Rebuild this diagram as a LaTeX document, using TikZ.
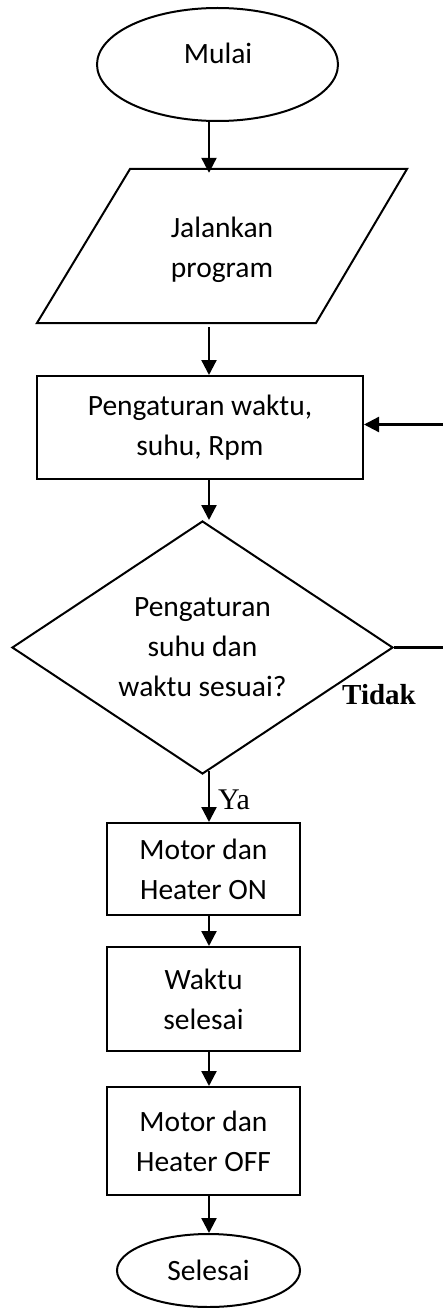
\documentclass[tikz,border=0pt]{standalone}
\usepackage{fontspec}
\setmainfont{Carlito}
\newfontfamily\tnr{Liberation Serif}
\usetikzlibrary{shapes.geometric,arrows.meta,calc}
\begin{document}
\begin{tikzpicture}[x=1pt,y=-1pt,
  every node/.style={font=\fontsize{29.5}{40}\selectfont, align=center, inner sep=0pt},
  shapeline/.style={draw=black, line width=2pt},
  term/.style={shapeline, ellipse},
  procbox/.style={shapeline, rectangle},
  decision/.style={shapeline, diamond, aspect=1.5},
  flow/.style={draw=black, line width=2.3pt, -{Triangle[length=15pt,width=15pt]}},
  lbl/.style={font=\tnr\fontsize{30}{32}\selectfont},
]
\useasboundingbox (0,0) rectangle (442,1308);
\coordinate (ax) at (209,0);
\coordinate (fbx) at (452,0);
% terminal start
\node[term, minimum width=241pt, minimum height=113pt] (mulai) at (217.5,64.5) {};
\node (mulaitxt) at (218,53) {Mulai};
% input parallelogram
\draw[shapeline] (130,169) -- (407,169) -- (316,323) -- (37,323) -- cycle;
\node[minimum height=154pt] (para) at (222,250) {Jalankan\\program};
% process
\node[procbox, minimum width=326pt, minimum height=103pt] (set) at (200,427.5) {Pengaturan waktu,\\suhu, Rpm};
% decision
\node[decision, minimum width=381pt, minimum height=253pt] (dia) at (202.5,647.5) {Pengaturan\\suhu dan\\waktu sesuai?};
% lower boxes
\node[procbox, minimum width=193pt, minimum height=92pt] (on) at (203.5,869) {Motor dan\\Heater ON};
\node[procbox, minimum width=193pt, minimum height=104pt] (waktu) at (203.5,999) {Waktu\\selesai};
\node[procbox, minimum width=193pt, minimum height=108pt] (off) at (203.5,1141) {Motor dan\\Heater OFF};
\node[term, minimum width=183pt, minimum height=73pt] (selesai) at (208.5,1270.5) {Selesai};
% labels
\node[lbl] (ya) at (234,800) {Ya};
\node[lbl, font=\tnr\bfseries\fontsize{29}{32}\selectfont] (tidak) at (379,695) {Tidak};
% connectors
\draw[flow] (mulai.south -| ax) -- (para.north -| ax);
\draw[flow] (para.south -| ax) -- (set.north -| ax);
\draw[flow] (set.south -| ax) -- (dia.north -| ax);
\draw[flow] ($(dia.south -| ax)+(0,-4)$) -- (on.north -| ax);
\draw[flow] (on.south -| ax) -- (waktu.north -| ax);
\draw[flow] (waktu.south -| ax) -- (off.north -| ax);
\draw[flow] (off.south -| ax) -- (selesai.north -| ax);
\draw[flow] (dia.east) -- (dia.east -| fbx) |- ($(set.east)+(0,-3)$);
\end{tikzpicture}
\end{document}
